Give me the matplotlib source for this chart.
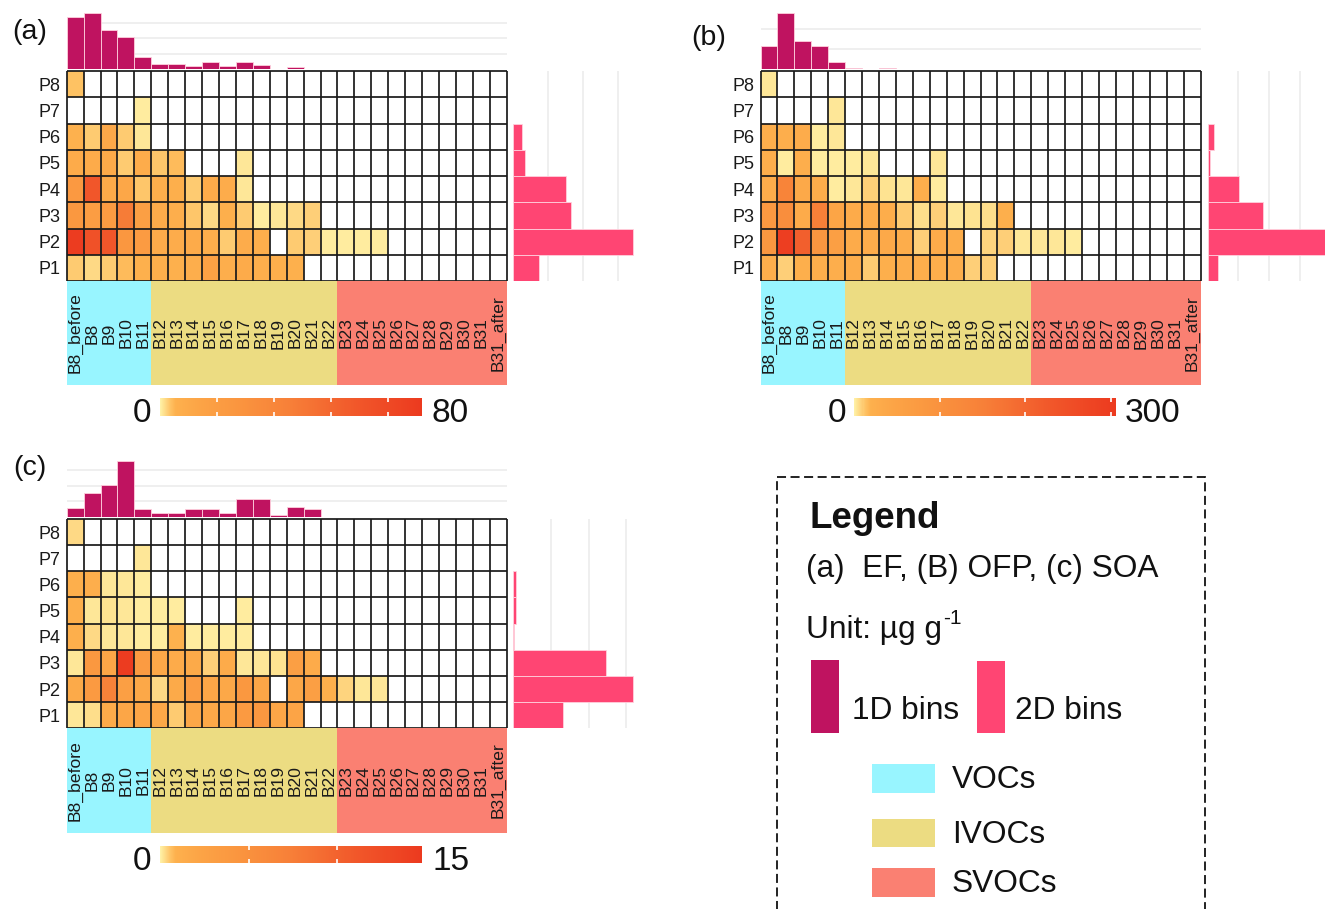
import numpy as np
import matplotlib
matplotlib.use("Agg")
import matplotlib.pyplot as plt
from matplotlib.colors import LinearSegmentedColormap, Normalize
from matplotlib.cm import ScalarMappable
from matplotlib.patches import Rectangle

plt.rcParams["font.family"] = ["Liberation Sans", "DejaVu Sans"]

nan = np.nan

# ---------------- categories ----------------
bins = ["B8_before"] + [f"B{i}" for i in range(8, 32)] + ["B31_after"]
pols = [f"P{i}" for i in range(1, 9)]
classes = ["VOCs", "IVOCs", "SVOCs"]
class_start = ["B8_before", "B12", "B23"]
class_colors = ["#98F5FF", "#ECDC82", "#FA8072"]

# ---------------- (a) EF ----------------
ef_grid = [  # rows P1..P8, columns follow `bins`
    [3.0, 2.0, 3.2, 4.5, 6.0, 6.5, 6.0, 7.0, 17, 7.0, 9.0, 7.0, 6.5, 6.0],
    [90, 74, 70, 26, 22, 9, 8.5, 9, 7, 3.2, 8, 7, nan, 3.0, 2.8, 0.7, 0.7, 0.6, 0.7],
    [25, 20, 22, 48, 18, 9, 7, 3.4, 2.1, 6.5, 3.0, 0.7, 0.8, 1.8, 2.7],
    [24, 70, 10, 12, 3.3, 7, 6.5, 3.0, 9, 8, 0.8],
    [9, 9, 10, 3.2, 8, 3.5, 4.5, nan, nan, nan, 0.9],
    [5.5, 2.9, 11, 3.0, 0.8],
    [nan, nan, nan, nan, 0.7],
    [3.8],
]
ef_1d = [67.5, 72.7, 50.6, 41.2, 16.0, 6.5, 6.5, 3.5, 9.5, 3.5, 8.7, 5.2, 0, 2.2]
ef_2d = [14.9, 68.4, 33.0, 30.1, 7.0, 5.1, 0, 0]

# ---------------- (b) OFP ----------------
ofp_grid = [
    [24, 9, 22, 25, 24, 26, 10, 22, 23, 24, 25, 24, 9, 9],
    [85, 295, 215, 88, 60, 30, 28, 35, 26, 9, 30, 26, nan, 8, 8.5, 2.6, 2.4, 2.5, 2.3],
    [80, 110, 30, 150, 45, 30, 28, 26, 10, 5, 9, 2.5, 4.5, 5, 22],
    [28, 140, 35, 26, 2.3, 2.5, 9, 4, 2.6, 24, 2.2],
    [25, 2.0, 24, 2.0, 2.2, 2.3, 2.5, nan, nan, nan, 2.4],
    [25, 25, 28, 2.2, 2.5],
    [nan, nan, nan, nan, 2.5],
    [2.5],
]
ofp_1d = [117, 282, 142, 117, 33, 7, 0, 7]
ofp_2d = [35, 430, 181, 102, 6.5, 22, 0, 0]

# ---------------- (c) SOA ----------------
soa_grid = [
    [0.12, 0.28, 1.4, 2.0, 2.1, 1.8, 0.5, 1.9, 1.8, 2.0, 3.8, 4.2, 2.0, 2.2],
    [1.6, 3.8, 7.0, 3.0, 1.8, 0.3, 1.6, 3.2, 2.0, 1.8, 4.0, 2.0, nan, 1.9, 3.0, 1.0, 0.35, 0.13, 0.12],
    [0.12, 4.0, 2.0, 14.5, 3.5, 1.8, 1.5, 1.6, 0.45, 1.5, 0.12, 0.12, 0.2, 3.0, 1.4],
    [1.0, 0.3, 0.12, 0.12, 0.11, 0.1, 0.9, 0.11, 0.1, 0.1, 0.1],
    [1.0, 0.12, 0.18, 0.12, 0.1, 0.1, 0.11, nan, nan, nan, 0.1],
    [1.0, 1.1, 0.12, 0.12, 0.1],
    [nan, nan, nan, nan, 0.12],
    [0.3],
]
soa_1d = [2.84, 7.5, 10.2, 18.2, 2.4, 1.2, 1.2, 2.4, 2.4, 1.2, 5.6, 5.6, 0.33, 3.2, 2.4]
soa_2d = [13.3, 31.7, 24.7, 0.3, 0.6, 0.6, 0, 0]

# colour ramp of the cells
heat_cmap = LinearSegmentedColormap.from_list("ylorrd_custom", [
    (0.000, "#FFF0A6"), (0.010, "#FEE594"), (0.025, "#FED27C"),
    (0.040, "#FEC162"), (0.060, "#FDB04D"), (0.150, "#FCA446"),
    (0.300, "#FA953F"), (0.500, "#F77F38"), (0.750, "#F1572A"),
    (1.000, "#EC3A1F")])
heat_cmap.set_bad("white")

C1D = "#BF1360"
C2D = "#FF4573"
BAR_EDGE = "#FFD0DD"
GRID_C = "#EBEBEB"
INK = "#111111"

W, H = 1325, 909
fig = plt.figure(figsize=(W / 100, H / 100), dpi=100)


def px_axes(x0, y0, x1, y1, **kw):
    return fig.add_axes([x0 / W, 1 - y1 / H, (x1 - x0) / W, (y1 - y0) / H], **kw)


def to_matrix(rows, ncol):
    m = np.full((len(rows), ncol), np.nan)
    for i, r in enumerate(rows):
        m[i, :len(r)] = r
    return m


def pad(vals, n):
    v = np.zeros(n)
    v[:len(vals)] = vals
    return v


panels = [
    dict(grid=ef_grid, b1=ef_1d, b2=ef_2d, vmax=92, cticks=[20, 40, 60, 80], cmax_lab="80",
         top_lim=76.6, top_grid=[20, 40, 60], right_lim=75.4, right_grid=[20, 40, 60],
         heat=(66.7, 71, 506.7, 281), top=(66.7, 10, 506.7, 69), right=(513, 71, 645, 281),
         band=(66.7, 281, 506.7, 385), cbar=(160, 398.3, 422.3, 415.7),
         lab0=(141.7, 414), labmax=(450, 414), tag="(a)", tagpos=(30, 32)),
    dict(grid=ofp_grid, b1=ofp_1d, b2=ofp_2d, vmax=306, cticks=[100, 200, 300], cmax_lab="300",
         top_lim=295, top_grid=[100, 200], right_lim=382, right_grid=[100, 200, 300],
         heat=(760.5, 71, 1200.5, 281), top=(760.5, 10, 1200.5, 69), right=(1207.7, 71, 1325, 281),
         band=(760.5, 281, 1200.5, 385), cbar=(854.3, 398.3, 1116, 415.7),
         lab0=(836.7, 414), labmax=(1153, 414), tag="(b)", tagpos=(709, 38)),
    dict(grid=soa_grid, b1=soa_1d, b2=soa_2d, vmax=14.8, cticks=[5, 10], cmax_lab="15",
         top_lim=19.4, top_grid=[5, 10, 15], right_lim=35, right_grid=[10, 20, 30],
         heat=(66.7, 519, 506.7, 728.3), top=(66.7, 457, 506.7, 516.5), right=(513.3, 519, 645, 728.3),
         band=(66.7, 728.3, 506.7, 832.7), cbar=(160, 846, 422.3, 862.7),
         lab0=(142, 861), labmax=(451, 861), tag="(c)", tagpos=(30, 468)),
]

nb, npol = len(bins), len(pols)
overlay = px_axes(0, 0, W, H, facecolor="none", zorder=10)
overlay.set_xlim(0, W)
overlay.set_ylim(H, 0)
overlay.axis("off")

for p in panels:
    norm = Normalize(0, p["vmax"])
    mat = np.ma.masked_invalid(to_matrix(p["grid"], nb))

    # heatmap
    ax = px_axes(*p["heat"])
    ax.pcolormesh(np.arange(nb + 1), np.arange(npol + 1), mat, cmap=heat_cmap, norm=norm)
    ax.vlines(np.arange(nb + 1), 0, npol, color="#1a1a1a", lw=1.25, clip_on=False)
    ax.hlines(np.arange(npol + 1), 0, nb, color="#1a1a1a", lw=1.25, clip_on=False)
    ax.set_xlim(0, nb)
    ax.set_ylim(0, npol)
    for s in ax.spines.values():
        s.set_visible(False)
    ax.set_xticks([])
    ax.set_yticks(np.arange(npol) + 0.5, pols, fontsize=13, color="#1a1a1a")
    ax.tick_params(axis="y", length=0, pad=4.5)

    # 1D bins on top
    axt = px_axes(*p["top"])
    v1 = pad(p["b1"], nb)
    keep = v1 > 0
    axt.bar(np.arange(nb)[keep] + 0.5, v1[keep], width=1.0, color=C1D,
            edgecolor=BAR_EDGE, linewidth=0.6, zorder=3)
    axt.set_xlim(0, nb)
    axt.set_ylim(0, p["top_lim"])
    axt.set_yticks(p["top_grid"])
    axt.set_xticks([])
    axt.tick_params(axis="y", length=0, labelleft=False)
    axt.grid(axis="y", color=GRID_C, lw=1.1)
    axt.set_axisbelow(True)
    for s in axt.spines.values():
        s.set_visible(False)

    # 2D bins on the right
    axr = px_axes(*p["right"])
    v2 = np.asarray(p["b2"], float)
    keep = v2 > 0
    axr.barh(np.arange(npol)[keep] + 0.5, v2[keep], height=1.0, color=C2D,
             edgecolor=BAR_EDGE, linewidth=0.6, zorder=3)
    axr.set_ylim(0, npol)
    axr.set_xlim(0, p["right_lim"])
    axr.set_xticks(p["right_grid"])
    axr.set_yticks([])
    axr.tick_params(axis="x", length=0, labelbottom=False)
    axr.grid(axis="x", color=GRID_C, lw=1.1)
    axr.set_axisbelow(True)
    for s in axr.spines.values():
        s.set_visible(False)

    # volatility class band with bin names
    axb = px_axes(*p["band"])
    starts = [bins.index(b) for b in class_start] + [nb]
    for k, name in enumerate(classes):
        axb.add_patch(Rectangle((starts[k], 0), starts[k + 1] - starts[k], 1,
                                facecolor=class_colors[k], edgecolor="none"))
    for i, b in enumerate(bins):
        axb.text(i + 0.5, 0.5, b, rotation=90, ha="center", va="center",
                 fontsize=12.6, color="#1a1a1a")
    axb.set_xlim(0, nb)
    axb.set_ylim(0, 1)
    axb.axis("off")

    # colour bar
    cax = px_axes(*p["cbar"])
    cb = fig.colorbar(ScalarMappable(norm=norm, cmap=heat_cmap), cax=cax,
                      orientation="horizontal", ticks=p["cticks"])
    cb.outline.set_visible(False)
    cax.tick_params(which="major", direction="in", length=3, width=1.2,
                    colors="white", top=True, bottom=True, labelbottom=False)
    cax.minorticks_off()
    overlay.text(*p["lab0"], "0", fontsize=24, ha="center", va="center", color=INK)
    overlay.text(*p["labmax"], p["cmax_lab"], fontsize=24, ha="center", va="center", color=INK)

    overlay.text(*p["tagpos"], p["tag"], fontsize=20.5, ha="center", va="center", color=INK)

# ---------------- legend box ----------------
LFS = 22.8
overlay.add_patch(Rectangle((776.7, 476.7), 1205 - 776.7, 460, fill=False,
                            edgecolor=INK, lw=1.3, ls=(0, (5, 2.5)), clip_on=False))
overlay.text(809, 519, "Legend", fontsize=26.5, fontweight="bold", ha="left", va="center", color=INK)
overlay.text(806, 569, "(a)  EF, (B) OFP, (c) SOA", fontsize=LFS, ha="left", va="center", color=INK)
unit = overlay.text(806, 630, "Unit: µg g", fontsize=LFS, ha="left", va="center", color=INK)
fig.canvas.draw()
ub = unit.get_window_extent().transformed(overlay.transData.inverted())
overlay.text(ub.x1 + 1, 618, "-1", fontsize=15, ha="left", va="center", color=INK)

overlay.add_patch(Rectangle((811, 660), 28, 73, facecolor=C1D, edgecolor="none"))
overlay.text(851.7, 711, "1D bins", fontsize=LFS, ha="left", va="center", color=INK)
overlay.add_patch(Rectangle((976.7, 661), 28.3, 72, facecolor=C2D, edgecolor="none"))
overlay.text(1015, 711, "2D bins", fontsize=LFS, ha="left", va="center", color=INK)

for k, (name, yc) in enumerate(zip(classes, [778.5, 833, 882.5])):
    overlay.add_patch(Rectangle((872, yc - 14.3), 63, 28.6,
                                facecolor=class_colors[k], edgecolor="none"))
    overlay.text(951.7, yc + 2, name, fontsize=LFS, ha="left", va="center", color=INK)

fig.savefig("out.png", dpi=100)
